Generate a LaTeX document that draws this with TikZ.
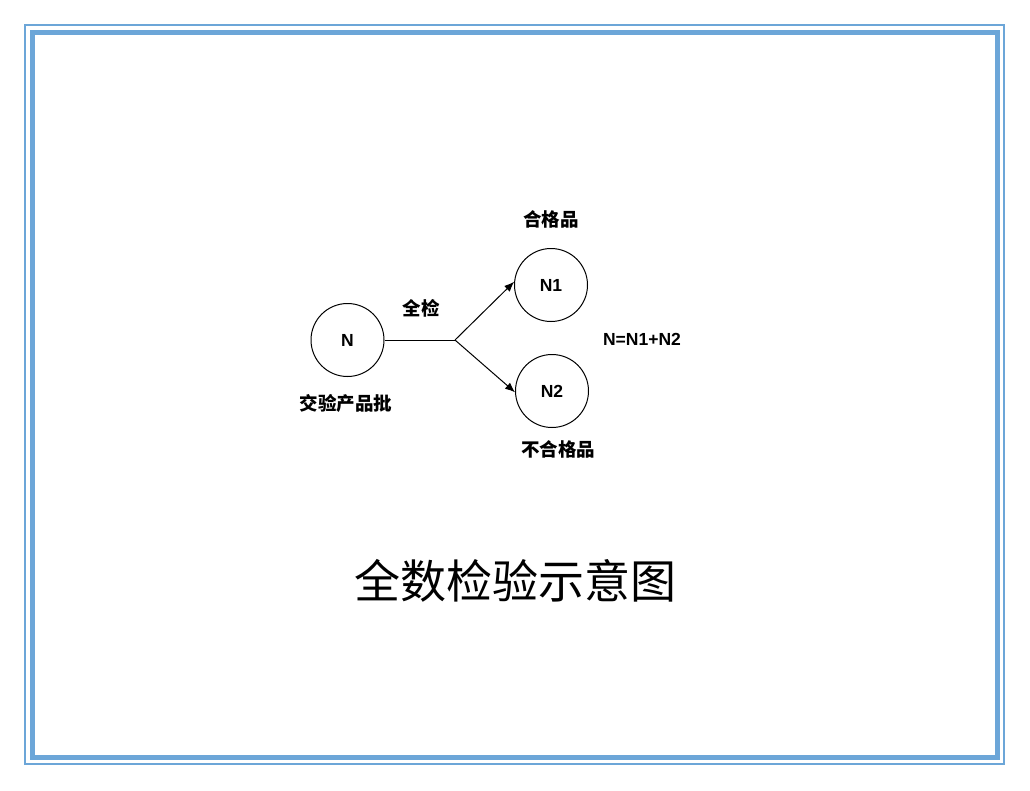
\documentclass[tikz,border=0pt]{standalone}
\usepackage{fontspec}
\setmainfont{Liberation Sans}
\newfontfamily\cjk{Noto Sans CJK SC}
\usetikzlibrary{arrows.meta}
\definecolor{frameblue}{RGB}{108,166,216}
\begin{document}
\begin{tikzpicture}[x=1pt, y=-1pt,
  lot/.style={circle, draw, line width=1pt, minimum size=73pt, inner sep=0pt,
    font=\bfseries\fontsize{17.5}{17.5}\selectfont},
  tag/.style={inner sep=0pt, font=\cjk\bfseries\fontsize{18.5}{18.5}\selectfont},
  flow/.style={line width=1pt, -{Latex[length=10pt, width=8pt]}}]
%\draw[help lines, step=50] (0,0) grid (1030,790);

\useasboundingbox (0,0) rectangle (1030,790);

% frame
\draw [frameblue, line width=2pt] (25,25) rectangle (1004,764);
\draw [frameblue, line width=5pt] (32.5,32.5) rectangle (997.5,757.5);

% lots
\node [lot] (N)  at (347.5,340) {N};
\node [lot] (N1) at (551,285) {N1};
\node [lot] (N2) at (552,391) {N2};

% inspection
\coordinate (fork) at (455,340);
\draw [line width=1pt] (N.east) to (fork);
\draw [flow] (fork) to (N1.175);
\draw [flow] (fork) to (N2.182);

% texts
\node [tag] (pass)  at (551,219) {合格品};
\node [tag] (check) at (421,308) {全检};
\node [tag] (batch) at (346,403) {交验产品批};
\node [tag] (fail)  at (558,449) {不合格品};
\node [inner sep=0pt, font=\bfseries\fontsize{17.5}{17.5}\selectfont]
  (sum) at (642,339) {N=N1+N2};
\node [inner sep=0pt, font=\cjk\fontsize{46}{46}\selectfont]
  (title) at (515,581) {全数检验示意图};

\end{tikzpicture}
\end{document}
